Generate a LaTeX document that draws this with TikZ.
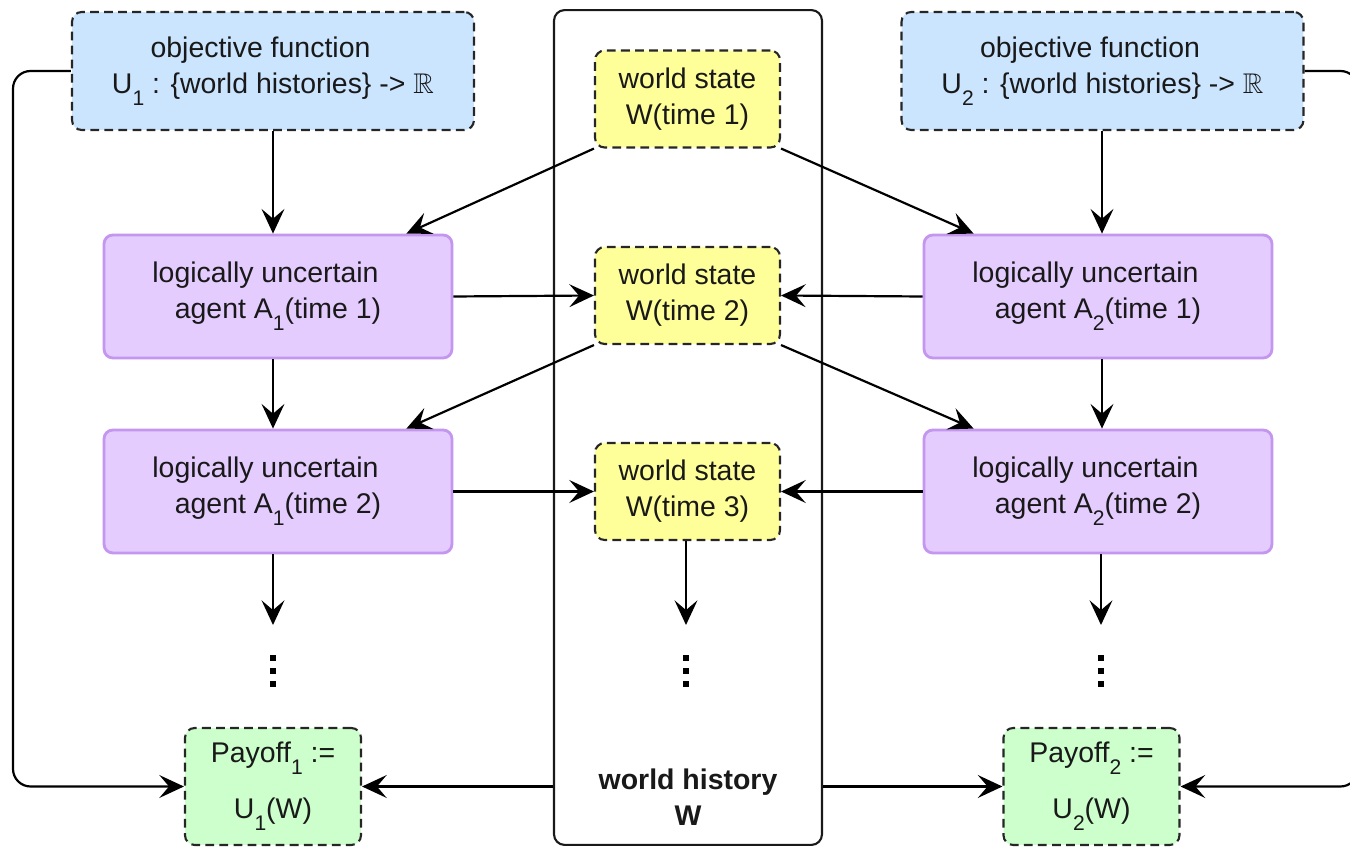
\documentclass[tikz,border=0pt]{standalone}
\usepackage{fontspec}
\usepackage{amssymb}
\setmainfont{Liberation Sans}
\usetikzlibrary{arrows.meta,calc}
\definecolor{objfill}{RGB}{204,229,255}
\definecolor{agfill}{RGB}{229,204,255}
\definecolor{agline}{RGB}{196,150,240}
\definecolor{wsfill}{RGB}{255,255,153}
\definecolor{payfill}{RGB}{204,255,204}
\newcommand\lsub[1]{\raisebox{-0.42em}{\fontsize{12}{12}\selectfont #1}}
\newcommand\padr{\hspace*{0.5cm}}
\begin{document}
\begin{tikzpicture}[x=0.02cm,y=-0.02cm,
 base/.style={font=\fontsize{16.2}{20.5}\selectfont, align=center, inner sep=0pt, text=black!90},
 dbox/.style={base, draw=black!85, dash pattern=on 5pt off 3pt, line width=1.2pt, rounded corners=5.5pt},
 objbox/.style={dbox, fill=objfill, minimum width=8.04cm, minimum height=2.36cm},
 wsbox/.style={dbox, fill=wsfill, minimum width=3.7cm, minimum height=1.94cm},
 paybox/.style={dbox, fill=payfill, minimum width=3.52cm, minimum height=2.34cm},
 agbox/.style={base, draw=agline, fill=agfill, line width=1.6pt, rounded corners=5pt, minimum width=6.96cm, minimum height=2.46cm},
 histbox/.style={draw=black!90, line width=1.2pt, rounded corners=6pt, fill=white, minimum width=5.36cm, minimum height=16.7cm, inner sep=0pt},
 arr/.style={-{Stealth[length=14pt,width=13pt,inset=5.5pt]}, line width=1.25pt},
 dotsq/.style={fill=black, minimum size=0.13cm, inner sep=0pt}
]
\useasboundingbox (0,0) rectangle (1350,847);

% world history column
\node[histbox] (hist) at (688,427.5) {};
\node[base, font=\fontsize{16.2}{20.5}\selectfont\bfseries] (histlbl) at (688,797) {world history\\W};

% objective functions
\node[objbox] (o1) at (273,71) {objective function\padr\\U\lsub{1} : \{world histories\} -> $\mathbb{R}$};
\node[objbox] (o2) at (1102.5,71) {objective function\padr\\U\lsub{2} : \{world histories\} -> $\mathbb{R}$};

% world states
\node[wsbox] (ws1) at (687.5,99) {world state\\W(time 1)};
\node[wsbox] (ws2) at (687.5,295.5) {world state\\W(time 2)};
\node[wsbox] (ws3) at (687.5,491.5) {world state\\W(time 3)};

% agents
\node[agbox] (a11) at (278,296.5) {logically uncertain\padr\\agent A\lsub{1}(time 1)};
\node[agbox] (a12) at (278,491.5) {logically uncertain\padr\\agent A\lsub{1}(time 2)};
\node[agbox] (a21) at (1098,296.5) {logically uncertain\padr\\agent A\lsub{2}(time 1)};
\node[agbox] (a22) at (1098,491.5) {logically uncertain\padr\\agent A\lsub{2}(time 2)};

% payoffs
\node[paybox] (p1) at (273,786.5) {Payoff\lsub{1} :=\\[0.4cm]U\lsub{1}(W)};
\node[paybox] (p2) at (1091.5,786.5) {Payoff\lsub{2} :=\\[0.4cm]U\lsub{2}(W)};

% dots
\foreach \x/\n in {273/l,686/m,1101/r}{
  \node[dotsq] (dot\n1) at (\x,658) {};
  \node[dotsq] (dot\n2) at (\x,671) {};
  \node[dotsq] (dot\n3) at (\x,684) {};
}
\coordinate (e1) at (273,625);
\coordinate (e2) at (686,625);
\coordinate (e3) at (1101,625);
\coordinate (L) at (13,0);
\coordinate (R) at (1358,0);
\coordinate (c1) at (273,0);
\coordinate (c2) at (1102,0);

% vertical arrows
\draw[arr] (c1 |- o1.south) -- (c1 |- a11.north);
\draw[arr] (c2 |- o2.south) -- (c2 |- a21.north);
\draw[arr] (c1 |- a11.south) -- (c1 |- a12.north);
\draw[arr] (c2 |- a21.south) -- (c2 |- a22.north);
\draw[arr] (e1 |- a12.south) -- (e1);
\draw[arr] (e3 |- a22.south) -- (e3);
\draw[arr] (e2 |- ws3.south) -- (e2);

% diagonal arrows
\draw[arr] (ws1.south west) -- ($(a11.north east)+(-47,0)$);
\draw[arr] (ws1.south east) -- ($(a21.north west)+(51,0)$);
\draw[arr] (ws2.south west) -- ($(a12.north east)+(-47,0)$);
\draw[arr] (ws2.south east) -- ($(a22.north west)+(51,0)$);

% horizontal arrows
\draw[arr] (a11.east) -- (ws2.west);
\draw[arr] (a21.west) -- (ws2.east);
\draw[arr] (a12.east) -- (ws3.west);
\draw[arr] (a22.west) -- (ws3.east);

% history to payoffs
\draw[arr] (hist.west |- p1.east) -- (p1.east);
\draw[arr] (hist.east |- p2.west) -- (p2.west);

% objective to payoffs
\draw[arr, rounded corners=10pt] (o1.west) -| (L |- p1.west) -- (p1.west);
\draw[arr, rounded corners=10pt] (o2.east) -| (R |- p2.east) -- (p2.east);
\end{tikzpicture}
\end{document}
